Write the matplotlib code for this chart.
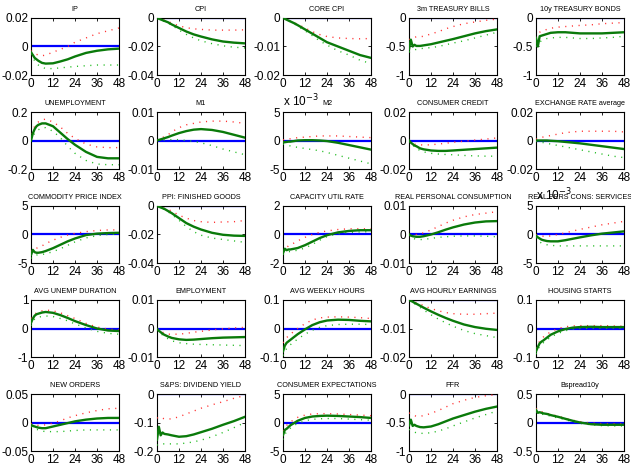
import numpy as np
import matplotlib as mpl
mpl.use('Agg')
import matplotlib.pyplot as plt
from matplotlib.ticker import FormatStrFormatter

plt.rcParams['font.family'] = ['Liberation Sans', 'DejaVu Sans']

h = [0, 1, 2, 3, 4, 6, 8, 12, 16, 20, 24, 30, 36, 42, 48]

titles = ['IP', 'CPI', 'CORE CPI', '3m TREASURY BILLS', '10y TREASURY BONDS',
          'UNEMPLOYMENT', 'M1', 'M2', 'CONSUMER CREDIT', 'EXCHANGE RATE average',
          'COMMODITY PRICE INDEX', 'PPI: FINISHED GOODS', 'CAPACITY UTIL RATE',
          'REAL PERSONAL CONSUMPTION', 'REAL PERS CONS: SERVICES',
          'AVG UNEMP DURATION', 'EMPLOYMENT', 'AVG WEEKLY HOURS', 'AVG HOURLY EARNINGS',
          'HOUSING STARTS', 'NEW ORDERS', 'S&PS: DIVIDEND YIELD', 'CONSUMER EXPECTATIONS',
          'FFR', 'Bspread10y']

ylims = [0.02, (-0.04, 0), (-0.02, 0), (-1, 0), (-1, 0),
         0.2, 0.01, 5, 0.02, 0.02,
         5, (-0.04, 0), 2, 0.01, 5,
         1, 0.01, 0.1, (-0.02, 0), 0.1,
         0.05, (-0.2, 0), 5, (-1, 0), 0.5]

# panels whose values are stored in units of 1e-3
scaled = {7, 14}

# point estimate (solid green)
irf = [
    [-0.004, -0.006, -0.008, -0.009, -0.010, -0.0115, -0.012, -0.0118, -0.0105, -0.009, -0.007, -0.0045, -0.003, -0.002, -0.0015],
    [0, -0.0005, -0.001, -0.0015, -0.002, -0.003, -0.0045, -0.007, -0.0095, -0.0115, -0.013, -0.015, -0.0165, -0.0173, -0.0178],
    [0, -0.0003, -0.0006, -0.0009, -0.0012, -0.0018, -0.0025, -0.004, -0.0055, -0.007, -0.0085, -0.010, -0.0115, -0.013, -0.014],
    [-0.55, -0.38, -0.5, -0.47, -0.49, -0.49, -0.48, -0.46, -0.43, -0.40, -0.37, -0.32, -0.27, -0.23, -0.20],
    [-0.35, -0.5, -0.32, -0.31, -0.30, -0.28, -0.26, -0.25, -0.25, -0.26, -0.27, -0.27, -0.27, -0.26, -0.25],
    [0, 0.05, 0.08, 0.1, 0.11, 0.12, 0.12, 0.1, 0.055, 0.01, -0.03, -0.08, -0.115, -0.125, -0.125],
    [0, 0.0002, 0.0004, 0.0006, 0.0008, 0.0012, 0.0017, 0.0026, 0.0033, 0.0038, 0.004, 0.0037, 0.003, 0.002, 0.001],
    [-0.3, -0.3, -0.25, -0.2, -0.2, -0.1, 0, 0.05, 0.05, 0, -0.1, -0.4, -0.8, -1.2, -1.6],
    [0, -0.0015, -0.0025, -0.0035, -0.004, -0.0055, -0.0062, -0.007, -0.0073, -0.0073, -0.007, -0.0065, -0.006, -0.0055, -0.005],
    [0, 0, 0, 0, 0, 0, -0.0002, -0.0005, -0.001, -0.0015, -0.002, -0.003, -0.004, -0.005, -0.006],
    [-3.6, -2.7, -3.1, -3.2, -3.2, -3.1, -2.9, -2.4, -1.8, -1.2, -0.7, -0.1, 0.15, 0.25, 0.3],
    [0, -0.0005, -0.001, -0.0015, -0.002, -0.0035, -0.005, -0.0085, -0.012, -0.0145, -0.0165, -0.0188, -0.0202, -0.0208, -0.021],
    [-1.3, -1.0, -1.1, -1.05, -1.05, -1.0, -0.95, -0.75, -0.5, -0.25, -0.05, 0.15, 0.25, 0.3, 0.3],
    [0, -0.0004, -0.0006, -0.0007, -0.0008, -0.0008, -0.0006, 0.0, 0.0008, 0.0017, 0.0025, 0.0035, 0.0042, 0.0046, 0.0047],
    [-0.2, -0.5, -0.7, -0.9, -1.0, -1.15, -1.2, -1.2, -1.0, -0.75, -0.5, -0.15, 0.15, 0.35, 0.55],
    [0.2, 0.35, 0.45, 0.5, 0.52, 0.56, 0.58, 0.55, 0.47, 0.37, 0.26, 0.12, 0.0, -0.07, -0.09],
    [-0.0002, -0.0008, -0.0013, -0.0018, -0.0022, -0.0028, -0.0033, -0.0038, -0.004, -0.0039, -0.0037, -0.0034, -0.0032, -0.0031, -0.003],
    [-0.08, -0.06, -0.05, -0.045, -0.04, -0.03, -0.02, -0.003, 0.012, 0.022, 0.028, 0.031, 0.03, 0.027, 0.025],
    [0, -0.0003, -0.0006, -0.001, -0.0013, -0.002, -0.0027, -0.004, -0.0052, -0.0063, -0.0073, -0.0086, -0.0095, -0.0101, -0.0105],
    [-0.08, -0.065, -0.052, -0.046, -0.042, -0.032, -0.022, -0.01, -0.002, 0.003, 0.005, 0.006, 0.005, 0.005, 0.005],
    [-0.004, -0.006, -0.007, -0.008, -0.009, -0.01, -0.01, -0.007, -0.004, -0.001, 0.002, 0.005, 0.007, 0.008, 0.008],
    [-0.16, -0.115, -0.145, -0.135, -0.14, -0.142, -0.145, -0.15, -0.148, -0.142, -0.134, -0.122, -0.108, -0.095, -0.08],
    [-2.2, -1.3, -1.1, -0.8, -0.5, -0.1, 0.3, 0.8, 1.05, 1.15, 1.2, 1.15, 1.05, 0.95, 0.8],
    [-0.55, -0.45, -0.56, -0.54, -0.56, -0.58, -0.585, -0.57, -0.53, -0.48, -0.43, -0.37, -0.31, -0.26, -0.22],
    [0.22, 0.17, 0.18, 0.17, 0.16, 0.15, 0.13, 0.1, 0.065, 0.03, 0.0, -0.03, -0.04, -0.04, -0.04],
]

# upper band (red dotted)
upper = [
    [-0.003, -0.004, -0.005, -0.0055, -0.006, -0.0065, -0.006, -0.004, -0.002, 0.0, 0.003, 0.006, 0.009, 0.011, 0.013],
    [0, -0.0004, -0.0008, -0.0012, -0.0015, -0.0025, -0.0035, -0.0055, -0.0068, -0.0076, -0.008, -0.0085, -0.0085, -0.0085, -0.0083],
    [0, -0.0003, -0.0006, -0.0008, -0.001, -0.0016, -0.0022, -0.0035, -0.0048, -0.0058, -0.0065, -0.007, -0.0072, -0.0073, -0.0072],
    [-0.38, -0.36, -0.35, -0.34, -0.33, -0.33, -0.32, -0.28, -0.24, -0.19, -0.15, -0.1, -0.07, -0.04, -0.02],
    [-0.35, -0.28, -0.25, -0.23, -0.22, -0.2, -0.18, -0.16, -0.15, -0.14, -0.13, -0.12, -0.1, -0.09, -0.08],
    [0, 0.07, 0.1, 0.12, 0.13, 0.145, 0.15, 0.13, 0.095, 0.05, 0.015, -0.025, -0.045, -0.05, -0.05],
    [0, 0.0003, 0.0007, 0.001, 0.0014, 0.002, 0.003, 0.0045, 0.0055, 0.006, 0.0065, 0.0068, 0.0068, 0.0065, 0.006],
    [0.1, 0.2, 0.2, 0.3, 0.3, 0.4, 0.5, 0.6, 0.7, 0.8, 0.8, 0.8, 0.7, 0.6, 0.5],
    [0, -0.001, -0.002, -0.0025, -0.003, -0.003, -0.0032, -0.003, -0.0025, -0.002, -0.0012, -0.0005, 0.0003, 0.001, 0.0018],
    [0.001, 0.0012, 0.0015, 0.002, 0.0025, 0.003, 0.0035, 0.0045, 0.0055, 0.006, 0.0065, 0.0065, 0.0065, 0.0065, 0.006],
    [-3.0, -2.6, -2.5, -2.4, -2.3, -2.0, -1.6, -1.0, -0.5, -0.1, 0.2, 0.5, 0.7, 0.8, 0.8],
    [0, -0.0004, -0.0008, -0.0012, -0.0016, -0.0025, -0.0035, -0.0065, -0.0085, -0.0102, -0.011, -0.0115, -0.0112, -0.011, -0.0102],
    [-1.2, -1.0, -0.9, -0.8, -0.7, -0.6, -0.45, -0.2, 0.0, 0.15, 0.25, 0.35, 0.4, 0.4, 0.4],
    [0, 0, 0, 0, 0, 0.0002, 0.0006, 0.0016, 0.0028, 0.004, 0.005, 0.0062, 0.007, 0.0075, 0.008],
    [0, -0.1, -0.2, -0.25, -0.3, -0.3, -0.25, 0, 0.3, 0.6, 0.9, 1.3, 1.7, 2.0, 2.3],
    [0.35, 0.45, 0.5, 0.55, 0.58, 0.62, 0.65, 0.62, 0.55, 0.45, 0.35, 0.18, 0.05, -0.02, -0.05],
    [0, -0.0005, -0.001, -0.0013, -0.0016, -0.002, -0.002, -0.002, -0.0017, -0.0013, -0.001, -0.0005, -0.0001, 0.0002, 0.0004],
    [-0.05, -0.04, -0.032, -0.026, -0.02, -0.01, 0.0, 0.017, 0.03, 0.037, 0.04, 0.041, 0.04, 0.038, 0.035],
    [0, -0.0002, -0.0004, -0.0006, -0.0009, -0.0014, -0.002, -0.003, -0.0038, -0.0044, -0.0048, -0.005, -0.005, -0.0048, -0.0046],
    [-0.07, -0.055, -0.045, -0.037, -0.03, -0.02, -0.012, 0.0, 0.006, 0.009, 0.01, 0.01, 0.01, 0.009, 0.008],
    [-0.002, -0.003, -0.004, -0.005, -0.005, -0.005, -0.004, -0.001, 0.003, 0.008, 0.012, 0.017, 0.021, 0.024, 0.025],
    [-0.085, -0.08, -0.082, -0.085, -0.087, -0.088, -0.087, -0.08, -0.07, -0.06, -0.05, -0.038, -0.027, -0.015, -0.005],
    [-1.5, -0.9, -0.5, -0.2, 0.1, 0.5, 0.9, 1.3, 1.5, 1.55, 1.55, 1.5, 1.4, 1.3, 1.2],
    [-0.33, -0.35, -0.37, -0.38, -0.39, -0.39, -0.38, -0.34, -0.29, -0.23, -0.17, -0.11, -0.06, -0.03, -0.01],
    [0.25, 0.22, 0.2, 0.19, 0.18, 0.16, 0.145, 0.11, 0.075, 0.04, 0.015, -0.01, -0.02, -0.02, -0.02],
]

# lower band (green dotted)
lower = [
    [-0.005, -0.008, -0.010, -0.012, -0.013, -0.0145, -0.0155, -0.0155, -0.015, -0.0145, -0.014, -0.0135, -0.013, -0.013, -0.013],
    [0, -0.0006, -0.0012, -0.0018, -0.0025, -0.0035, -0.005, -0.0085, -0.0115, -0.014, -0.016, -0.018, -0.0195, -0.0205, -0.021],
    [0, -0.0003, -0.0007, -0.001, -0.0013, -0.002, -0.0028, -0.0045, -0.0062, -0.008, -0.0095, -0.0115, -0.013, -0.0148, -0.016],
    [-0.6, -0.58, -0.57, -0.56, -0.55, -0.54, -0.53, -0.52, -0.50, -0.47, -0.44, -0.40, -0.35, -0.30, -0.25],
    [-0.5, -0.45, -0.42, -0.4, -0.38, -0.36, -0.35, -0.34, -0.34, -0.35, -0.36, -0.36, -0.35, -0.34, -0.32],
    [0, 0.03, 0.05, 0.065, 0.075, 0.09, 0.09, 0.065, 0.02, -0.04, -0.09, -0.14, -0.165, -0.17, -0.17],
    [0, 0, 0.0001, 0.0002, 0.0002, 0.0003, 0.0003, 0.0003, 0.0, -0.0003, -0.0008, -0.0018, -0.003, -0.004, -0.005],
    [-0.6, -0.7, -0.8, -0.9, -0.95, -1.1, -1.2, -1.4, -1.6, -1.8, -2.1, -2.6, -3.1, -3.6, -4.1],
    [0, -0.002, -0.003, -0.0045, -0.0055, -0.007, -0.008, -0.009, -0.0095, -0.0098, -0.01, -0.0105, -0.0108, -0.011, -0.011],
    [-0.0005, -0.0008, -0.001, -0.0012, -0.0015, -0.002, -0.0025, -0.0035, -0.0045, -0.0055, -0.0065, -0.008, -0.0095, -0.011, -0.012],
    [-4.2, -3.8, -3.7, -3.6, -3.6, -3.5, -3.4, -3.0, -2.5, -1.9, -1.3, -0.6, -0.2, 0.0, 0.1],
    [0, -0.0006, -0.0012, -0.0018, -0.0025, -0.004, -0.006, -0.01, -0.0145, -0.018, -0.0205, -0.0225, -0.0235, -0.0245, -0.0255],
    [-1.4, -1.3, -1.25, -1.2, -1.2, -1.15, -1.1, -0.95, -0.7, -0.4, -0.15, 0.05, 0.15, 0.18, 0.2],
    [0, -0.0008, -0.0012, -0.0015, -0.0017, -0.0018, -0.0017, -0.0014, -0.001, -0.0008, -0.0006, -0.0005, -0.0005, -0.0006, -0.0008],
    [-0.5, -1.0, -1.3, -1.5, -1.6, -1.8, -1.9, -2.0, -2.0, -2.0, -2.0, -2.0, -2.0, -2.0, -2.0],
    [0.1, 0.25, 0.33, 0.38, 0.4, 0.42, 0.44, 0.42, 0.35, 0.27, 0.16, 0.02, -0.1, -0.17, -0.2],
    [-0.0004, -0.001, -0.0017, -0.0023, -0.0028, -0.0036, -0.0043, -0.005, -0.0053, -0.0055, -0.0056, -0.0057, -0.0058, -0.0059, -0.006],
    [-0.095, -0.08, -0.07, -0.063, -0.057, -0.047, -0.037, -0.02, -0.006, 0.004, 0.01, 0.014, 0.015, 0.015, 0.014],
    [0, -0.0004, -0.0008, -0.0013, -0.0017, -0.0026, -0.0035, -0.0052, -0.0067, -0.008, -0.0092, -0.0107, -0.0118, -0.0125, -0.0132],
    [-0.09, -0.075, -0.062, -0.055, -0.05, -0.04, -0.03, -0.017, -0.008, -0.002, 0.0, 0.001, 0.001, 0.001, 0.001],
    [-0.007, -0.009, -0.011, -0.012, -0.013, -0.015, -0.016, -0.016, -0.016, -0.015, -0.014, -0.013, -0.013, -0.013, -0.013],
    [-0.18, -0.175, -0.175, -0.175, -0.175, -0.175, -0.175, -0.175, -0.172, -0.168, -0.162, -0.15, -0.135, -0.118, -0.1],
    [-3.0, -2.0, -1.7, -1.3, -1.0, -0.5, -0.2, 0.3, 0.55, 0.65, 0.7, 0.7, 0.6, 0.5, 0.4],
    [-0.62, -0.64, -0.66, -0.67, -0.68, -0.69, -0.69, -0.68, -0.65, -0.61, -0.56, -0.49, -0.42, -0.36, -0.3],
    [0.19, 0.17, 0.16, 0.15, 0.14, 0.13, 0.11, 0.08, 0.05, 0.015, -0.015, -0.04, -0.055, -0.06, -0.06],
]

fig = plt.figure(figsize=(6.31, 4.65), dpi=100)
W, H = 631.0, 465.0
lefts = [31, 157, 283, 409, 536]
tops = [18, 112, 206, 300, 394]
aw, ah = 88, 57

for k in range(25):
    r, c = divmod(k, 5)
    ax = fig.add_axes([lefts[c] / W, 1 - (tops[r] + ah) / H, aw / W, ah / H])
    ax.plot([0, 48], [0, 0], color='#0000ff', lw=1.6, zorder=2)
    ax.plot(h, upper[k], color='#ff3030', lw=1.0, ls=(0, (0.8, 4)), zorder=3)
    ax.plot(h, lower[k], color='#22bb22', lw=1.0, ls=(0, (0.8, 4)), zorder=3)
    ax.plot(h, irf[k], color='#0a7a0a', lw=1.7, zorder=4)
    yl = ylims[k]
    if not isinstance(yl, tuple):
        yl = (-yl, yl)
    ax.set_ylim(yl)
    ax.set_xlim(0, 48)
    ax.set_yticks([yl[0], (yl[0] + yl[1]) / 2, yl[1]])
    ax.yaxis.set_major_formatter(FormatStrFormatter('%g'))
    ax.set_xticks([0, 12, 24, 36, 48])
    ax.tick_params(direction='in', length=2.5, width=0.6, labelsize=8.5, pad=2,
                   top=True, right=True)
    for s in ax.spines.values():
        s.set_linewidth(0.8)
    ax.set_title(titles[k], fontsize=5.2, pad=5)
    if k in scaled:
        ax.text(0, 1.04, r'x 10$^{-3}$', transform=ax.transAxes, fontsize=8.5,
                ha='left', va='bottom')

plt.savefig('out.png', dpi=100)
